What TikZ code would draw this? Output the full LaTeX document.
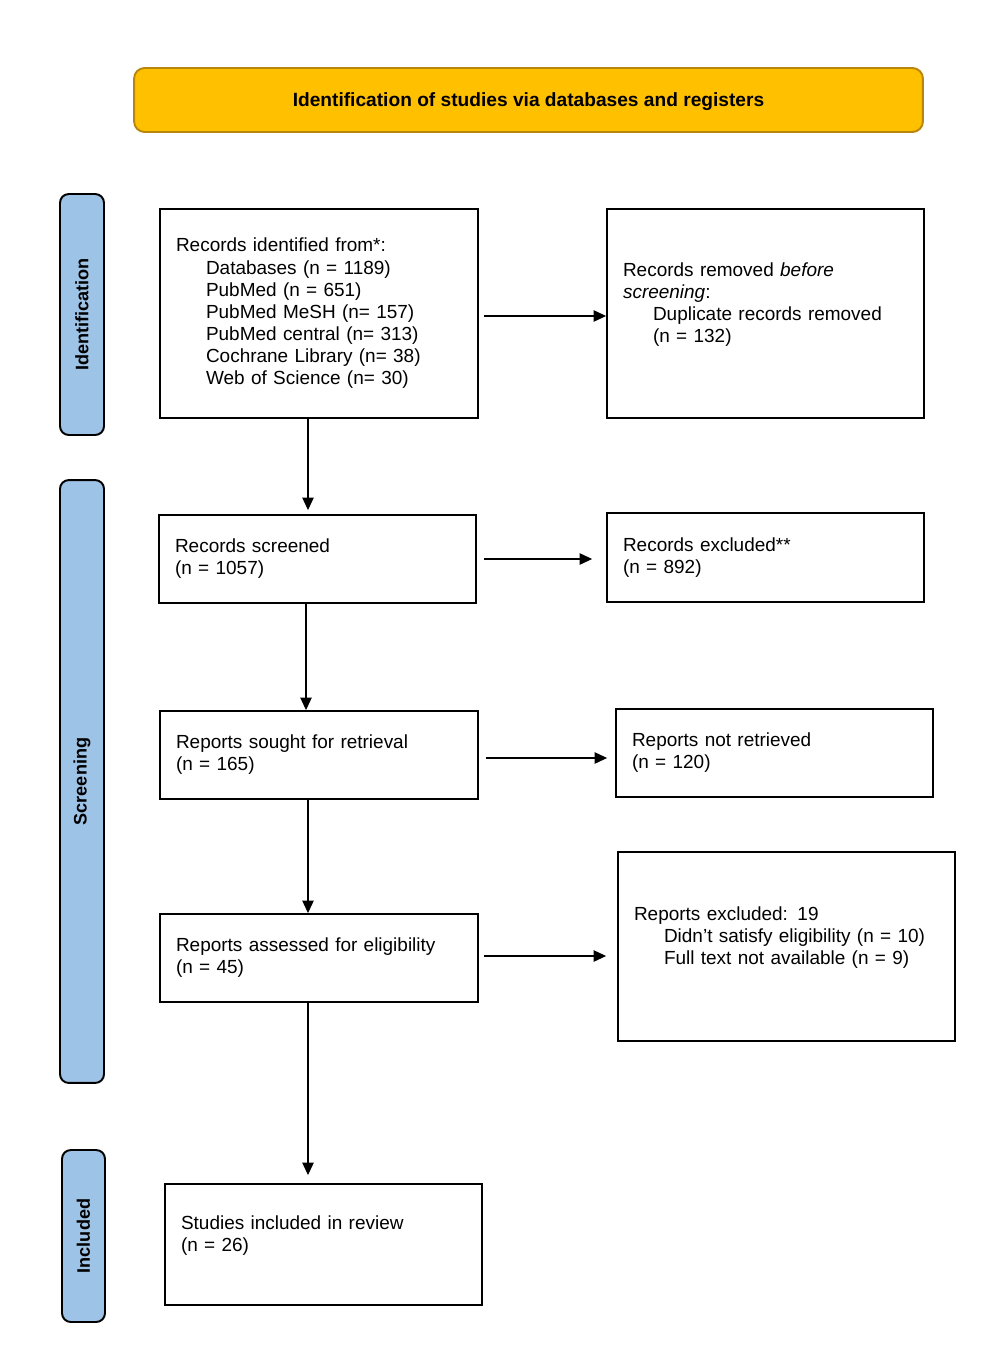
\documentclass[tikz,border=0pt]{standalone}
\usepackage{fontspec}
\setmainfont{Liberation Sans}
\usetikzlibrary{arrows.meta}

\definecolor{titlefill}{HTML}{FFC000}
\definecolor{titleline}{HTML}{B8860B}
\definecolor{sidefill}{HTML}{9DC3E6}

\begin{document}
\begin{tikzpicture}[x=0.02cm,y=-0.02cm]
        \tikzstyle{every node}=[font=\fontsize{10.8}{12.6}\selectfont]
        \tikzstyle{box}=[draw,line width=1.1pt,shape=rectangle,inner xsep=0.32cm,align=left]
        \tikzstyle{side}=[draw,line width=1.1pt,rounded corners=5pt,fill=sidefill,rotate=90,
            minimum height=0.88cm,font=\fontsize{10.3}{12}\selectfont\bfseries]
        \tikzstyle{arr}=[line width=0.6pt,-{Triangle[length=0.25cm,width=0.23cm]}]
        \useasboundingbox (0,0) rectangle (986,1372);

            % top banner
            \node [draw=titleline,line width=1.1pt,fill=titlefill,rounded corners=6pt,text depth=0pt,
                minimum width=15.78cm,minimum height=1.28cm,font=\fontsize{10.9}{13}\selectfont\bfseries]
                (title) at (528.5,100) {Identification of studies via databases and registers};

            % phase labels
            \node [side,minimum width=4.82cm] (phid) at (82,314.5) {Identification};
            \node [side,minimum width=12.06cm] (phscr) at (82,781.5) {Screening};
            \node [side,minimum width=3.44cm,minimum height=0.86cm] (phinc) at (83.5,1236) {Included};

            % flow boxes
            \node [box,text width=5.72cm,minimum height=4.18cm] (ident) at (319,313.5)
                {Records identified from*:\\
                \hspace*{0.6cm}Databases (n = 1189)\\
                \hspace*{0.6cm}PubMed (n = 651)\\
                \hspace*{0.6cm}PubMed MeSH (n= 157)\\
                \hspace*{0.6cm}PubMed central (n= 313)\\
                \hspace*{0.6cm}Cochrane Library (n= 38)\\
                \hspace*{0.6cm}Web of Science (n= 30)};
            \node [box,text width=5.7cm,minimum height=4.18cm] (removed) at (765.5,313.5)
                {Records removed \emph{before}\\
                \emph{screening}:\\
                \hspace*{0.6cm}Duplicate records removed\\
                \hspace*{0.6cm}(n = 132)\\ \mbox{}};
            \node [box,text width=5.7cm,minimum height=1.76cm] (screened) at (317.5,559)
                {Records screened\\(n = 1057)};
            \node [box,text width=5.7cm,minimum height=1.78cm] (excluded) at (765.5,557.5)
                {Records excluded**\\(n = 892)};
            \node [box,text width=5.72cm,minimum height=1.76cm] (sought) at (319,755)
                {Reports sought for retrieval\\(n = 165)};
            \node [box,text width=5.7cm,minimum height=1.76cm] (notret) at (774.5,753)
                {Reports not retrieved\\(n = 120)};
            \node [box,text width=5.72cm,minimum height=1.76cm] (assessed) at (319,958)
                {Reports assessed for eligibility\\(n = 45)};
            \node [box,text width=6.1cm,minimum height=3.78cm] (exclrep) at (786.5,946.5)
                {Reports excluded: 19\\
                \hspace*{0.6cm}Didn't satisfy eligibility (n = 10)\\
                \hspace*{0.6cm}Full text not available (n = 9)\\ \mbox{}};
            \node [box,text width=5.7cm,minimum height=2.42cm] (incl) at (323.5,1244.5)
                {Studies included in review\\(n = 26)\\ \mbox{}};

            % connectors
            \draw [arr] ([xshift=0.1cm,yshift=-0.05cm]ident.east) -- ([yshift=-0.05cm]ident.east -| removed.west);
            \draw [arr] ([xshift=-0.22cm]ident.south) -- ([xshift=-0.22cm,yshift=0.08cm]ident.south |- screened.north);
            \draw [arr] ([xshift=-0.23cm]screened.south) -- ([xshift=-0.23cm]screened.south |- sought.north);
            \draw [arr] ([xshift=-0.22cm]sought.south) -- ([xshift=-0.22cm]sought.south |- assessed.north);
            \draw [arr] ([xshift=-0.22cm]assessed.south) -- ([xshift=-0.22cm,yshift=0.16cm]assessed.south |- incl.north);
            \draw [arr,shorten <=0.14cm,shorten >=0.28cm] (screened.east) -- (screened.east -| excluded.west);
            \draw [arr,shorten <=0.14cm,shorten >=0.16cm] ([yshift=-0.06cm]sought.east) -- ([yshift=-0.06cm]sought.east -| notret.west);
            \draw [arr,shorten <=0.1cm,shorten >=0.22cm] ([yshift=0.04cm]assessed.east) -- ([yshift=0.04cm]assessed.east -| exclrep.west);
        \end{tikzpicture}
\end{document}
